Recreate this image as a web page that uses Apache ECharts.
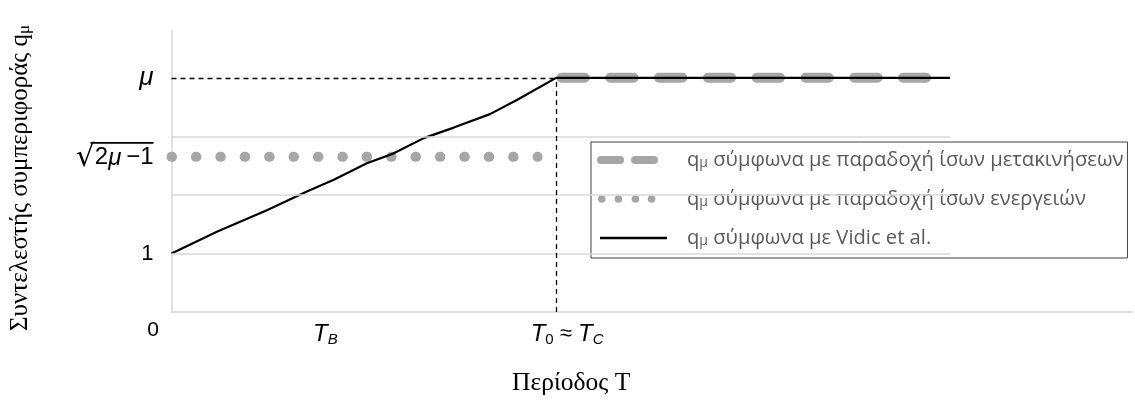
<!DOCTYPE html>
<html>
<head>
<meta charset="utf-8">
<script src="https://cdn.jsdelivr.net/npm/echarts@6/dist/echarts.min.js"></script>
<style>
html,body{margin:0;padding:0;background:#fff;}
#chart{width:1135px;height:405px;}
</style>
</head>
<body>
<div id="chart"></div>
<script>
// ---- data ----
const MU = 4;
const ENERGY_Q = 2.65;          // sqrt(2*mu-1) level
const T_B = 0.2;
const T_C = 0.5;

const seriesNames = [
  'qμ σύμφωνα με παραδοχή ίσων μετακινήσεων',
  'qμ σύμφωνα με παραδοχή ίσων ενεργειών',
  'qμ σύμφωνα με Vidic et al.'
];

const dispT = [0.507, 0.981];
const dispQ = [4, 4];

const energyT = [0, 0.476];
const energyQ = [2.65, 2.65];

const vidicT = [0, 0.059, 0.124, 0.176, 0.211, 0.254, 0.289, 0.328, 0.367, 0.414, 0.449, 0.5, 1.012];
const vidicQ = [1, 1.37, 1.74, 2.06, 2.26, 2.54, 2.71, 2.97, 3.15, 3.38, 3.62, 4, 4];

const gridQ = [1, 2, 3];
const gridEndT = 1.012;

const yTickValues = [1, ENERGY_Q, MU];
const xTickValues = [0, T_B, T_C];

const zip = (xs, ys) => xs.map((x, i) => [x, ys[i]]);

const chart = echarts.init(document.getElementById('chart'));

const legendIcons = [
  'path://M0 0 M86 9 M5 0.5 L24 0.5 A4 4 0 0 1 24 8.5 L5 8.5 A4 4 0 0 1 5 0.5 Z M39 0.5 L58 0.5 A4 4 0 0 1 58 8.5 L39 8.5 A4 4 0 0 1 39 0.5 Z',
  'path://M0 0 M86 9 M2 4.5 A3.8 3.8 0 1 0 9.6 4.5 A3.8 3.8 0 1 0 2 4.5 Z M18.6 4.5 A3.8 3.8 0 1 0 26.2 4.5 A3.8 3.8 0 1 0 18.6 4.5 Z M35.6 4.5 A3.8 3.8 0 1 0 43.2 4.5 A3.8 3.8 0 1 0 35.6 4.5 Z M51.8 4.5 A3.8 3.8 0 1 0 59.4 4.5 A3.8 3.8 0 1 0 51.8 4.5 Z',
  'path://M0 0 M86 9 M4 3.3 L71 3.3 L71 5.7 L4 5.7 Z'
];
const legendColors = ['#a6a6a6', '#a6a6a6', '#000000'];

const option = {
  animation: false,
  backgroundColor: '#ffffff',
  grid: { left: 171, right: 2, top: 31, bottom: 93, containLabel: false },
  legend: {
    orient: 'vertical',
    left: 591,
    top: 142,
    padding: [7, 4, 9, 5],
    itemGap: 17,
    itemWidth: 86,
    itemHeight: 9,
    symbolKeepAspect: false,
    borderColor: '#404040',
    borderWidth: 1,
    backgroundColor: 'transparent',
    selectedMode: false,
    data: seriesNames.map((n, i) => ({ name: n, icon: legendIcons[i], itemStyle: { color: legendColors[i] } })),
    formatter: (name) => '{q|q}{s|μ}' + name.slice(2),
    textStyle: {
      fontFamily: 'Open Sans',
      fontSize: 20.2,
      color: '#595959',
      lineHeight: 22,
      rich: {
        q: { fontFamily: 'Open Sans', fontSize: 20.2, color: '#595959', lineHeight: 22 },
        s: { fontFamily: 'Open Sans', fontSize: 14, color: '#595959', lineHeight: 22, padding: [6, 0, 0, 0] }
      }
    }
  },
  xAxis: {
    type: 'value',
    min: 0,
    max: 1.25,
    axisLine: { show: true, onZero: false, lineStyle: { color: '#d9d9d9', width: 1.5 } },
    axisTick: { show: false, customValues: xTickValues },
    splitLine: { show: false },
    axisLabel: {
      customValues: xTickValues,
      showMinLabel: true,
      margin: 7,
      formatter: (v) => {
        if (Math.abs(v) < 1e-9) return '{z|0}';
        if (Math.abs(v - T_B) < 1e-9) return '{T|T}{sub|B}';
        return '{pad|}{T|T}{subn|0}{n| ≈ }{T|T}{sub|C}';
      },
      rich: {
        z: { fontFamily: 'Liberation Sans', fontSize: 21, color: '#000', lineHeight: 26, padding: [0, 37, 4, 0] },
        T: { fontFamily: 'Liberation Sans', fontStyle: 'italic', fontSize: 24, color: '#000', lineHeight: 30 },
        sub: { fontFamily: 'Liberation Sans', fontStyle: 'italic', fontSize: 15, color: '#000', lineHeight: 18, padding: [12, 0, 0, 0] },
        subn: { fontFamily: 'Liberation Sans', fontSize: 15, color: '#000', lineHeight: 18, padding: [12, 0, 0, 0] },
        n: { fontFamily: 'Liberation Sans', fontSize: 22, color: '#000', lineHeight: 30 },
        pad: { width: 22 }
      }
    },
    name: 'Περίοδος Τ',
    nameLocation: 'middle',
    nameGap: 58,
    nameTextStyle: {
      fontFamily: 'Liberation Serif',
      fontSize: 25.5,
      color: '#000',
      padding: [0, 162, 0, 0]
    }
  },
  yAxis: {
    type: 'value',
    min: 0,
    max: 4.8,
    axisLine: { show: true, lineStyle: { color: '#d9d9d9', width: 1.5 } },
    axisTick: { show: false, customValues: yTickValues },
    splitLine: { show: false },
    axisLabel: {
      customValues: yTickValues,
      margin: 18,
      formatter: (v) => {
        if (Math.abs(v - 1) < 1e-9) return '{n|1}';
        if (Math.abs(v - MU) < 1e-9) return '{mu|μ}';
        return '{bar|}\n{rad|√}{r|2}{ri|μ}{r|\u2009−1}';
      },
      rich: {
        n: { fontFamily: 'Liberation Sans', fontSize: 22, color: '#000' },
        mu: { fontFamily: 'Liberation Sans', fontStyle: 'italic', fontSize: 26, color: '#000' },
        bar: { width: 63, height: 1.6, lineHeight: 2, backgroundColor: '#000' },
        rad: { fontFamily: 'DejaVu Sans', fontSize: 30, color: '#000', lineHeight: 28 },
        r: { fontFamily: 'Liberation Sans', fontSize: 24, color: '#000', lineHeight: 28 },
        ri: { fontFamily: 'Liberation Sans', fontStyle: 'italic', fontSize: 24, color: '#000', lineHeight: 28 }
      }
    },
    name: 'Συντελεστής συμπεριφοράς q{s|μ}',
    nameLocation: 'middle',
    nameGap: 138,
    nameRotate: 90,
    nameTextStyle: {
      fontFamily: 'Liberation Serif',
      fontSize: 25,
      color: '#000',
      padding: [0, 13, 0, 0],
      rich: {
        s: { fontFamily: 'Liberation Serif', fontSize: 17, color: '#000', padding: [9, 0, 0, 0] }
      }
    }
  },
  series: [
    {
      name: '__grid',
      type: 'line',
      data: [],
      silent: true,
      z: 1,
      markLine: {
        silent: true,
        symbol: 'none',
        label: { show: false },
        lineStyle: { color: '#d9d9d9', width: 1.5, type: 'solid' },
        data: gridQ.map(q => [{ coord: [0, q] }, { coord: [gridEndT, q] }])
      }
    },
    {
      name: seriesNames[0],
      type: 'line',
      data: zip(dispT, dispQ),
      showSymbol: false,
      symbol: 'none',
      color: '#a6a6a6',
      z: 2,
      lineStyle: { color: '#a6a6a6', width: 10, cap: 'round', type: [23.3, 25.5] }
    },
    {
      name: seriesNames[1],
      type: 'line',
      data: zip(energyT, energyQ),
      showSymbol: false,
      symbol: 'none',
      color: '#a6a6a6',
      z: 2,
      lineStyle: { color: '#a6a6a6', width: 10, cap: 'round', type: [0.5, 23.9] }
    },
    {
      name: '__ref',
      type: 'line',
      data: [],
      silent: true,
      z: 3,
      markLine: {
        silent: true,
        symbol: 'none',
        label: { show: false },
        lineStyle: { color: '#000', width: 1.3, type: [5, 4] },
        data: [
          [{ coord: [0, MU] }, { coord: [T_C, MU] }],
          [{ coord: [T_C, 0] }, { coord: [T_C, MU] }]
        ]
      }
    },
    {
      name: seriesNames[2],
      type: 'line',
      data: zip(vidicT, vidicQ),
      showSymbol: false,
      symbol: 'none',
      color: '#000',
      z: 4,
      lineStyle: { color: '#000', width: 2.2 }
    }
  ]
};

chart.setOption(option);
</script>
</body>
</html>
